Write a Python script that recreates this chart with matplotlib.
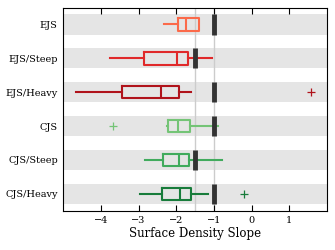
import matplotlib
matplotlib.use("Agg")
import matplotlib.pyplot as plt

labels = ["EJS", "EJS/Steep", "EJS/Heavy", "CJS", "CJS/Steep", "CJS/Heavy"]
whislo = [-2.33, -3.76, -4.66, -2.25, -2.83, -2.96]
q1 = [-1.96, -2.85, -3.43, -2.21, -2.36, -2.37]
med = [-1.74, -1.98, -2.41, -1.95, -1.92, -1.90]
q3 = [-1.41, -1.68, -1.93, -1.64, -1.66, -1.62]
whishi = [-1.40, -1.06, -1.62, -0.89, -0.78, -1.15]
fliers = [[], [], [1.57], [-3.69], [], [-0.21]]
target = [-1.0, -1.5, -1.0, -1.0, -1.5, -1.0]
colors = ["#fb6a4a", "#e0292a", "#b0131b", "#74c476", "#41ab5d", "#187c3b"]

plt.rcParams['font.family'] = 'DejaVu Serif'

fig = plt.figure(figsize=(3.35, 2.5), dpi=100)
ax = fig.add_axes([0.189, 0.157, 0.787, 0.813])

n = len(labels)
pos = list(range(n))

for i in pos:
    ax.axhspan(i - 0.3, i + 0.3, color="#e5e5e5", lw=0, zorder=0)

ax.axvline(-1.5, color="#cccccc", lw=1.0, zorder=1)
ax.axvline(-1.0, color="#cccccc", lw=1.0, zorder=1)

for i in pos:
    st = dict(med=med[i], q1=q1[i], q3=q3[i], whislo=whislo[i],
              whishi=whishi[i], fliers=fliers[i])
    c = colors[i]
    ax.bxp([st], positions=[i], vert=False, widths=0.37, showcaps=False,
           boxprops=dict(color=c, lw=1.5),
           medianprops=dict(color=c, lw=1.5),
           whiskerprops=dict(color=c, lw=1.5),
           flierprops=dict(marker="+", markeredgecolor=c, markersize=6,
                           markeredgewidth=0.9),
           zorder=3)

for i in pos:
    ax.plot([target[i], target[i]], [i - 0.3, i + 0.3], color="#333333",
            lw=3.5, solid_capstyle="butt", zorder=4)

ax.set_xlim(-5, 2)
ax.set_ylim(n - 0.5, -0.5)
ax.set_yticks(pos)
ax.set_yticklabels(labels, fontsize=7)
ax.set_xticks([-4, -3, -2, -1, 0, 1])
ax.set_xticklabels(["\u22124", "\u22123", "\u22122", "\u22121", "0", "1"], fontsize=7)
ax.tick_params(axis="x", direction="in", top=True, length=4, width=0.8)
ax.tick_params(axis="y", length=0, pad=4)
ax.set_xlabel("Surface Density Slope", fontsize=8.5, labelpad=2)

fig.savefig("out.png", dpi=100)
